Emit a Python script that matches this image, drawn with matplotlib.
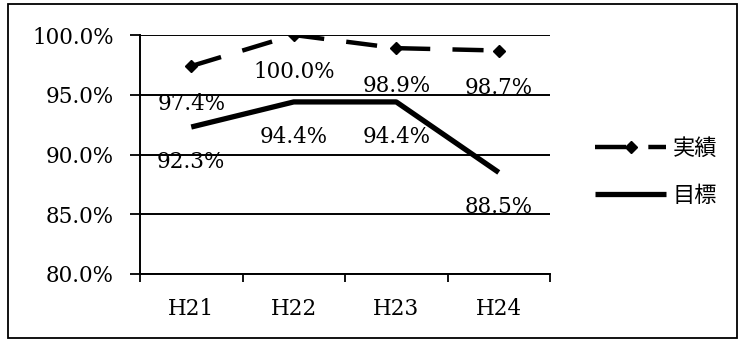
import matplotlib.pyplot as plt
import matplotlib.ticker as mtick
from matplotlib.patches import Rectangle

years = ["H21", "H22", "H23", "H24"]
actual = [97.4, 100.0, 98.9, 98.7]   # 実績
target = [92.3, 94.4, 94.4, 88.5]    # 目標

serif = ["DejaVu Serif"]
jp = ["Noto Sans CJK JP", "DejaVu Sans"]
fs = 15.5

fig = plt.figure(figsize=(7.4, 3.42), dpi=100)
# outer frame
fig.patches.append(Rectangle((8 / 740, 4 / 342), 729 / 740, 334 / 342, transform=fig.transFigure,
                             fill=False, edgecolor="black", linewidth=1.3))

ax = fig.add_axes([140 / 740, 68 / 342, 410 / 740, 239 / 342])
x = list(range(len(years)))

ax.plot(x, actual, color="black", linewidth=3.2, linestyle=(0, (7, 5)), marker="D", markersize=6, label="実績")
ax.plot(x, target, color="black", linewidth=3.8, solid_capstyle="butt", label="目標")

for i in x:
    ax.annotate(f"{actual[i]:.1f}%", (i, actual[i]), xytext=(0, -27), textcoords="offset points",
                ha="center", va="center", fontsize=fs, family=serif)
    ax.annotate(f"{target[i]:.1f}%", (i, target[i]), xytext=(0, -25), textcoords="offset points",
                ha="center", va="center", fontsize=fs, family=serif)

ax.set_xlim(-0.5, 3.5)
ax.set_ylim(80, 100)
ax.set_yticks([80, 85, 90, 95, 100])
ax.yaxis.set_major_formatter(mtick.FormatStrFormatter("%.1f%%"))
ax.set_xticks([-0.5, 0.5, 1.5, 2.5, 3.5])
ax.set_xticklabels([])
ax.set_xticks(x, minor=True)
ax.set_xticklabels(years, minor=True)
ax.tick_params(axis="x", which="minor", length=0, pad=17)
ax.tick_params(axis="x", which="major", length=6, width=1.3, direction="out")
ax.tick_params(axis="y", length=7, width=1.3, direction="out", pad=12)
for lab in ax.get_yticklabels() + ax.get_xticklabels(minor=True):
    lab.set_family(serif)
    lab.set_fontsize(fs)

ax.grid(axis="y", color="black", linewidth=1.4)
ax.set_axisbelow(True)
for s in ["top", "right"]:
    ax.spines[s].set_visible(False)
for s in ["left", "bottom"]:
    ax.spines[s].set_linewidth(1.4)

leg = fig.legend(loc="center left", bbox_to_anchor=(575 / 740, 0.497), frameon=False,
                 handlelength=3.2, handletextpad=0.3, labelspacing=1.1, prop={"family": jp, "size": 16})

fig.savefig("out.png", dpi=100)
